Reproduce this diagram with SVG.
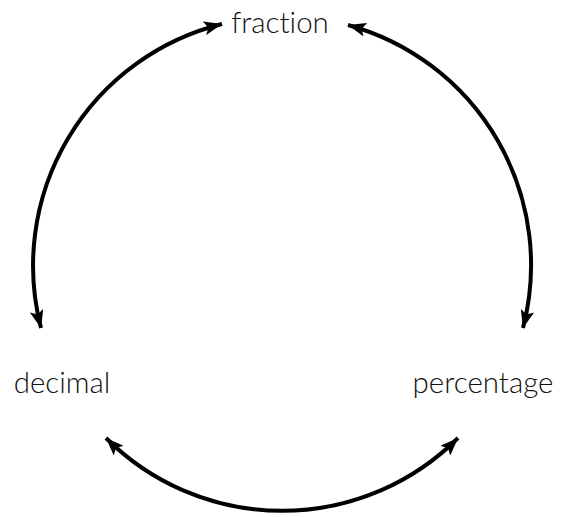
<svg xmlns="http://www.w3.org/2000/svg" width="568" height="517" viewBox="0 0 568 517">
<style>
.lbl{font-family:Lato,"Open Sans","Liberation Sans",sans-serif;font-weight:300;font-size:29.5px;fill:#111;font-variant-ligatures:none}
.arc{fill:none;stroke:#000;stroke-width:4}
</style>
<defs>
<marker id="ah" viewBox="0 0 18 14" refX="18" refY="7" markerWidth="18" markerHeight="14" markerUnits="userSpaceOnUse" orient="auto-start-reverse">
<path d="M0,0 L18,7 L0,14 L4,7 Z" fill="#000"/>
</marker>
</defs>
<rect width="568" height="517" fill="#fff"/>
<g id="connectors">
<path class="arc" d="M222,24 A249,249 0 0 0 41,328" marker-start="url(#ah)" marker-end="url(#ah)"/>
<path class="arc" d="M348,25 A249,249 0 0 1 523,328" marker-start="url(#ah)" marker-end="url(#ah)"/>
<path class="arc" d="M106,438 A249,249 0 0 0 458,438" marker-start="url(#ah)" marker-end="url(#ah)"/>
</g>
<g id="fraction"><text class="lbl" x="280" y="33" text-anchor="middle">fraction</text></g>
<g id="decimal"><text class="lbl" x="62" y="393" text-anchor="middle">decimal</text></g>
<g id="percentage"><text class="lbl" x="483" y="393" text-anchor="middle">percentage</text></g>
</svg>
